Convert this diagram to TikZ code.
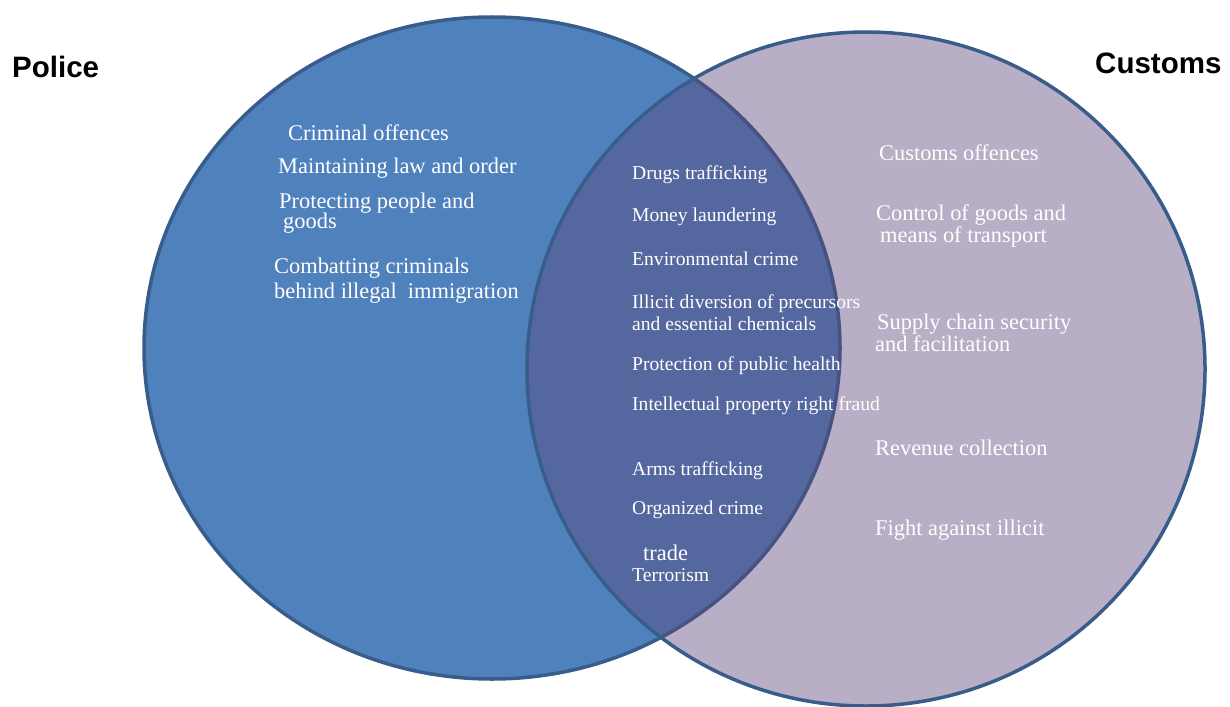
\documentclass[tikz,border=0pt]{standalone}
\usepackage{fontspec}
\setmainfont{Liberation Serif}
\newfontfamily\headfont{Liberation Sans}
\definecolor{policeblue}{RGB}{79,129,189}
\definecolor{customsviolet}{RGB}{93,70,122}
\definecolor{rimblue}{RGB}{56,93,138}
\tikzset{
        area/.style = {draw=rimblue, line width=3.5pt},
        big/.style = {text=white, anchor=west, align=left, inner sep=0pt,
                font=\fontsize{22.4}{24}\selectfont},
        small/.style = {text=white, anchor=west, align=left, inner sep=0pt,
                font=\fontsize{19.6}{22}\selectfont},
        head/.style = {anchor=west, inner sep=0pt,
                font=\headfont\bfseries\fontsize{29.5}{31}\selectfont}
}
\begin{document}
\begin{tikzpicture}[x=1pt, y=-1pt]
        \useasboundingbox (0,0) rectangle (1230,706);
        \draw[area, fill=policeblue] (492,348) ellipse [x radius=348pt, y radius=331pt];
        \draw[area, fill=customsviolet, fill opacity=0.44] (866,369) ellipse [x radius=339pt, y radius=337pt];

        \node[head] (police) at (12,67) {Police};
        \node[head] (customs) at (1095,63) {Customs};

        \node[big] (crim) at (288,133) {Criminal offences};
        \node[big] (law) at (278,168) {Maintaining law and order};
        \node[big] (protect) at (279,213) {Protecting people and\\[-4pt]\hspace*{4pt}goods};
        \node[big] (immig) at (274,281) {Combatting criminals\\[1pt]behind illegal\ \ immigration};

        \node[small] (drugs) at (632,175) {Drugs trafficking};
        \node[small] (money) at (632,217) {Money laundering};
        \node[small] (env) at (632,259) {Environmental crime};
        \node[small] (precur) at (632,313) {Illicit diversion of precursors\\and essential chemicals};
        \node[small] (health) at (632,366) {Protection of public health};
        \node[small] (ipr) at (632,406) {Intellectual property right fraud};
        \node[small] (arms) at (632,471) {Arms trafficking};
        \node[small] (organ) at (632,510) {Organized crime};
        \node[big] (trade) at (643,553) {trade};
        \node[small] (terror) at (632,575) {Terrorism};

        \node[big] (cust) at (879,153) {Customs offences};
        \node[big] (goods) at (876,226) {Control of goods and\\[-2pt]\hspace*{4pt}means of transport};
        \node[big] (supply) at (875,333) {\hspace*{2pt}Supply chain security\\[-2pt]and facilitation};
        \node[big] (revenue) at (875,448) {Revenue collection};
        \node[big] (illicit) at (875,530) {Fight against illicit};
\end{tikzpicture}
\end{document}
